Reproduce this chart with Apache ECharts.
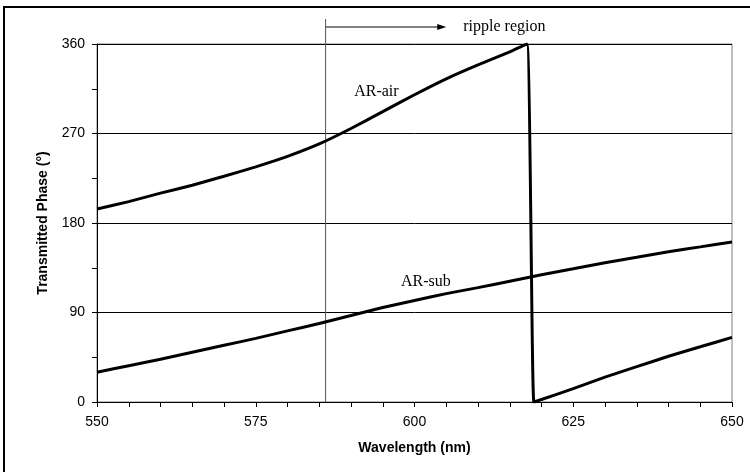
<!DOCTYPE html>
<html>
<head>
<meta charset="utf-8">
<script src="https://cdn.jsdelivr.net/npm/echarts@6/dist/echarts.min.js"></script>
<style>
  html, body { margin: 0; padding: 0; background: #fff; }
  #chart { width: 750px; height: 472px; }
</style>
</head>
<body>
<div id="chart"></div>
<script>
// wavelength (nm) / phase (deg) pairs
const arAir = [
  [550, 194], [555, 201.5], [560, 210], [565, 218], [570, 227], [575, 236.5],
  [580, 247], [585, 259.5], [590, 275], [595, 292], [600, 309], [605, 325],
  [610, 339], [615, 352], [617.7, 360], [618.8, 0], [620, 2.5], [625, 13.5],
  [630, 25], [635, 35.5], [640, 46], [645, 55.5], [650, 65]
];
const arSub = [
  [550, 30], [555, 36.5], [560, 43], [565, 50], [570, 57], [575, 64],
  [580, 71.5], [585, 79], [590, 87], [595, 95], [600, 102], [605, 109],
  [610, 115], [615, 121.5], [620, 128], [625, 134], [630, 140], [635, 145.5],
  [640, 151], [645, 156], [650, 161]
];
const xTicks = [550, 575, 600, 625, 650];
const yTicks = [0, 90, 180, 270, 360];
const rippleStart = 586;   // nm, start of ripple region
const rippleArrowEnd = 605; // nm
const airLabelAt = [594, 312];
const subLabelAt = [601.8, 121];

const chart = echarts.init(document.getElementById('chart'), null, { renderer: 'canvas' });

const tickFont = { color: '#000', fontFamily: 'Liberation Sans, Arial', fontSize: 14 };
const serif = '"Liberation Serif", "Times New Roman", serif';

const option = {
  animation: false,
  backgroundColor: '#fff',
  grid: {
    left: 97, right: 18, top: 44, bottom: 70,
    show: true, borderColor: '#808080', borderWidth: 1
  },
  xAxis: {
    type: 'value',
    min: xTicks[0], max: xTicks[xTicks.length - 1], interval: 25,
    name: 'Wavelength (nm)', nameLocation: 'middle', nameGap: 39,
    nameTextStyle: { color: '#000', fontFamily: 'Liberation Sans, Arial', fontSize: 14, fontWeight: 'bold' },
    axisLine: { lineStyle: { color: '#000', width: 1 } },
    axisTick: { inside: false, length: 5, lineStyle: { color: '#000' } },
    minorTick: { show: true, splitNumber: 5, length: 5, lineStyle: { color: '#000' } },
    axisLabel: Object.assign({ margin: 13 }, tickFont),
    splitLine: { show: false }
  },
  yAxis: {
    type: 'value',
    min: yTicks[0], max: yTicks[yTicks.length - 1], interval: 90,
    name: 'Transmitted Phase (°)', nameLocation: 'middle', nameGap: 47,
    nameTextStyle: { color: '#000', fontFamily: 'Liberation Sans, Arial', fontSize: 14, fontWeight: 'bold' },
    axisLine: { show: true, lineStyle: { color: '#000', width: 1 } },
    axisTick: { show: true, length: 5, lineStyle: { color: '#000' } },
    minorTick: { show: true, splitNumber: 2, length: 5, lineStyle: { color: '#000' } },
    axisLabel: Object.assign({ margin: 12 }, tickFont),
    splitLine: { show: true, lineStyle: { color: '#000', width: 1 } }
  },
  series: [
    {
      name: 'AR-air', type: 'line', data: arAir, showSymbol: false,
      smooth: 0.15,
      lineStyle: { color: '#000', width: 3 }, z: 5
    },
    {
      name: 'AR-sub', type: 'line', data: arSub, showSymbol: false,
      smooth: 0.2,
      lineStyle: { color: '#000', width: 3 }, z: 5
    }
  ]
};
chart.setOption(option);

// annotations placed through the axes
const px = (x, y) => chart.convertToPixel({ gridIndex: 0 }, [x, y]);
const base = px(rippleStart, 0);
const arrowEnd = px(rippleArrowEnd, 0)[0];
const arrowY = 27;
const air = px(airLabelAt[0], airLabelAt[1]);
const sub = px(subLabelAt[0], subLabelAt[1]);

chart.setOption({
  graphic: [
    {
      type: 'rect', silent: true, z: 0,
      shape: { x: 4, y: 7, width: 760, height: 480 },
      style: { fill: 'none', stroke: '#000', lineWidth: 2 }
    },
    {
      type: 'line', silent: true, z: 1,
      shape: { x1: base[0], y1: base[1], x2: base[0], y2: 19 },
      style: { stroke: '#555', lineWidth: 1 }
    },
    {
      type: 'line', silent: true,
      shape: { x1: base[0], y1: arrowY, x2: arrowEnd - 6, y2: arrowY },
      style: { stroke: '#000', lineWidth: 1 }
    },
    {
      type: 'polygon', silent: true,
      shape: { points: [[arrowEnd, arrowY], [arrowEnd - 9, arrowY - 3], [arrowEnd - 9, arrowY + 3]] },
      style: { fill: '#000' }
    },
    {
      type: 'text', silent: true,
      style: { x: arrowEnd + 17, y: arrowY, text: 'ripple region', font: '16px ' + serif,
        fill: '#000', textVerticalAlign: 'middle', textAlign: 'left' }
    },
    {
      type: 'text', silent: true,
      style: { x: air[0], y: air[1], text: 'AR-air', font: '16px ' + serif,
        fill: '#000', textVerticalAlign: 'middle', textAlign: 'center' }
    },
    {
      type: 'text', silent: true,
      style: { x: sub[0], y: sub[1], text: 'AR-sub', font: '16px ' + serif,
        fill: '#000', textVerticalAlign: 'middle', textAlign: 'center' }
    }
  ]
});
</script>
</body>
</html>
